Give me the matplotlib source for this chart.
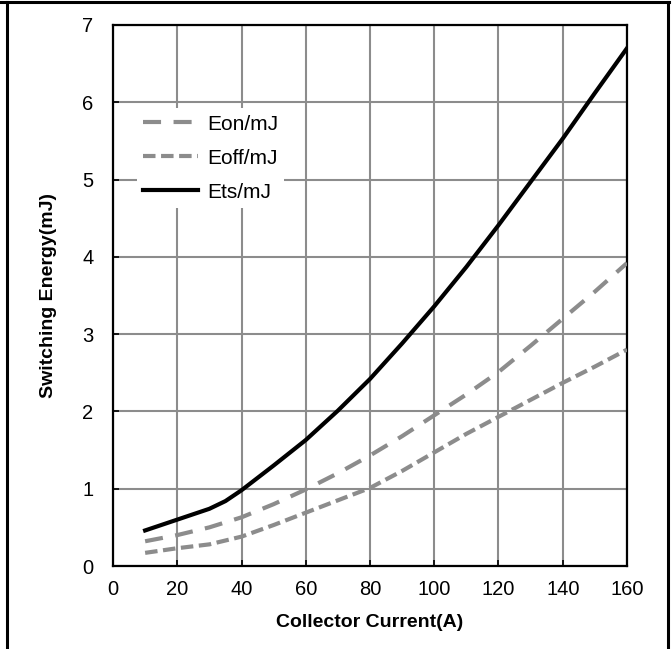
import matplotlib
matplotlib.use("Agg")
import matplotlib.pyplot as plt
from matplotlib.lines import Line2D

current = [10, 20, 30, 40, 50, 60, 70, 80, 90, 100, 110, 120, 130, 140, 150, 160]
eon = [0.32, 0.40, 0.50, 0.63, 0.80, 0.99, 1.20, 1.43, 1.68, 1.95, 2.22, 2.51, 2.85, 3.20, 3.55, 3.92]
eoff = [0.17, 0.23, 0.28, 0.38, 0.53, 0.69, 0.85, 1.01, 1.23, 1.47, 1.71, 1.93, 2.15, 2.37, 2.58, 2.80]
ets_current = [10, 20, 30, 35, 40, 50, 60, 70, 80, 90, 100, 110, 120, 130, 140, 150, 160]
ets = [0.46, 0.60, 0.74, 0.84, 0.98, 1.30, 1.63, 2.01, 2.42, 2.88, 3.36, 3.87, 4.41, 4.97, 5.53, 6.12, 6.70]

x_ticks = [0, 20, 40, 60, 80, 100, 120, 140, 160]
y_ticks = [0, 1, 2, 3, 4, 5, 6, 7]

plt.rcParams['font.family'] = ['Liberation Sans', 'DejaVu Sans']
plt.rcParams['lines.scale_dashes'] = False

W, H = 672, 649
fig = plt.figure(figsize=(W / 100, H / 100), dpi=100)
ax = fig.add_axes([113 / W, (H - 566) / H, 514 / W, 541 / H])

gray = '#8c8c8c'
ax.plot(current, eon, color=gray, lw=3.0, dashes=(13, 9), label='Eon/mJ', zorder=3)
ax.plot(current, eoff, color=gray, lw=3.0, dashes=(9, 4), label='Eoff/mJ', zorder=3)
ax.plot(ets_current, ets, color='black', lw=3.0, label='Ets/mJ', zorder=4)

ax.set_xlim(0, 160)
ax.set_ylim(0, 7)
ax.set_xticks(x_ticks)
ax.set_yticks(y_ticks)
ax.grid(True, color=gray, lw=1.5)
ax.set_axisbelow(True)
ax.tick_params(direction='in', length=4, width=1.2, colors='black', labelsize=14.5)
ax.tick_params(axis='x', pad=10)
ax.tick_params(axis='y', pad=14)
for s in ax.spines.values():
    s.set_linewidth(1.6)
    s.set_color('black')

ax.set_xlabel('Collector Current(A)', fontsize=14, fontweight='bold', labelpad=11)
ax.set_ylabel('Switching Energy(mJ)', fontsize=14, fontweight='bold', labelpad=18)

leg = ax.legend(loc='upper left', bbox_to_anchor=(0.047, 0.846), fontsize=15,
                frameon=True, facecolor='white', edgecolor='none', framealpha=1,
                fancybox=False, handlelength=2.6, handletextpad=0.45,
                labelspacing=0.72, borderpad=0.3, borderaxespad=0)
leg.set_zorder(5)

# figure border (table-cell style)
lw_b = 2.2
fig.add_artist(Line2D([0, 669 / W], [1 - 2 / H, 1 - 2 / H], color='black', lw=lw_b, transform=fig.transFigure))
fig.add_artist(Line2D([7 / W, 7 / W], [0, 1 - 2 / H], color='black', lw=lw_b, transform=fig.transFigure))
fig.add_artist(Line2D([667.5 / W, 667.5 / W], [0, 1 - 2 / H], color='black', lw=lw_b, transform=fig.transFigure))

fig.savefig('out.png', dpi=100)
